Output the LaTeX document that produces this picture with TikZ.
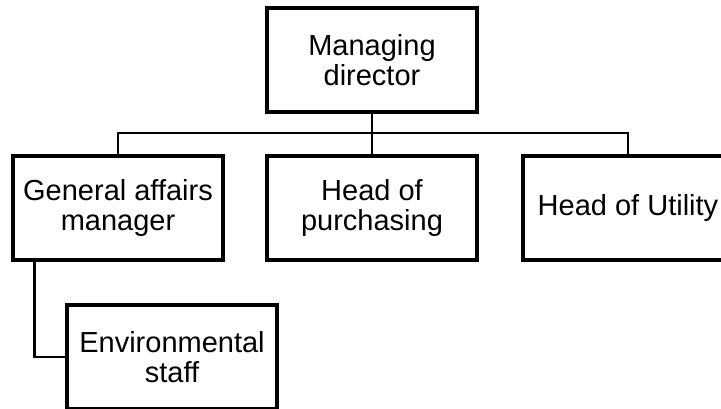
\documentclass[tikz,border=0pt]{standalone}
\usepackage{fontspec}
\setmainfont{Liberation Sans}
\usepackage{tikz}

\begin{document}
\begin{tikzpicture}[x=1pt,y=-1pt,
    orgbox/.style={draw,line width=3.2pt,minimum width=210pt,minimum height=104pt,
        align=center,font=\fontsize{29}{30}\selectfont},
    link/.style={line width=2.2pt}]
    \useasboundingbox (0,0) rectangle (721,408);

    \node[orgbox] (md)  at (372,60)  {Managing\\director};
    \node[orgbox] (gam) at (118,208) {General affairs\\manager};
    \node[orgbox] (hop) at (372,208) {Head of\\purchasing};
    \node[orgbox] (hou) at (628,208) {Head of Utility};
    \node[orgbox] (env) at (172,357) {Environmental\\staff};

    \coordinate (bus) at (372,133);

    \draw[link] (md) -- (hop);
    \draw[link] (gam.north) -- (gam.north |- bus) -- (hou.north |- bus) -- (hou.north);
    \draw[link] ([xshift=23pt]gam.south west) |- (env.west);
\end{tikzpicture}
\end{document}
